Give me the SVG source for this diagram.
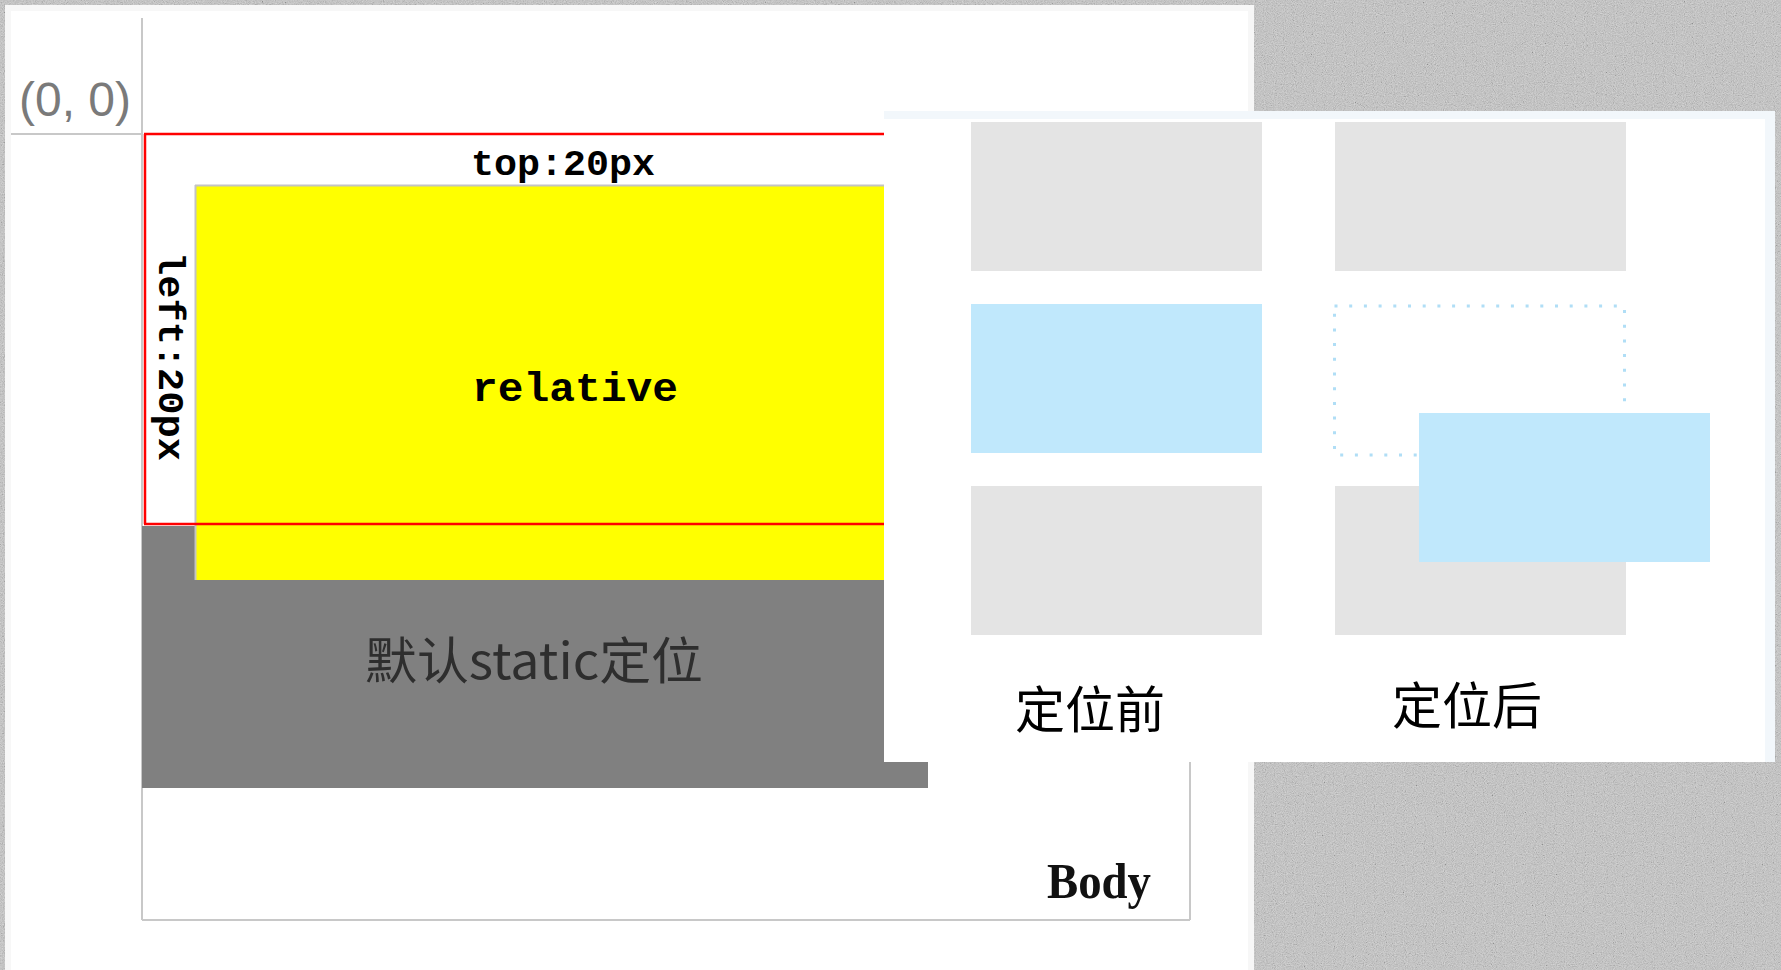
<svg xmlns="http://www.w3.org/2000/svg" width="1781" height="970" viewBox="0 0 1781 970">
<defs>
<filter id="grain" x="0" y="0" width="100%" height="100%">
<feTurbulence type="fractalNoise" baseFrequency="0.9" numOctaves="2" seed="7"/>
<feColorMatrix type="matrix" values="0.6 0.6 0.6 0 -0.45  0.6 0.6 0.6 0 -0.45  0.6 0.6 0.6 0 -0.45  0 0 0 0 1"/>
</filter>
<style>
.guide{stroke:#c8c8c8;stroke-width:2;fill:none}
.red{stroke:#ff0000;stroke-width:2.5;fill:none}
.mono{font-family:"Liberation Mono","DejaVu Sans Mono",monospace;font-weight:bold;fill:#000}
.cjk{font-family:"Noto Sans CJK SC","Noto Sans",sans-serif;fill:#000}
.grey{fill:#e4e4e4}
.blue{fill:#c0e8fc}
</style>
</defs>
<!-- textured background -->
<rect x="0" y="0" width="1781" height="970" fill="#cbcbcb"/>
<rect x="0" y="0" width="1781" height="970" filter="url(#grain)" opacity="0.3"/>

<!-- left panel -->
<g id="left-panel">
<rect x="5" y="5" width="1249" height="970" fill="#f7f7f7"/>
<rect x="11" y="11" width="1237" height="965" fill="#ffffff"/>
<line class="guide" x1="142" y1="18" x2="142" y2="920"/>
<line class="guide" x1="11" y1="134" x2="142" y2="134"/>
<line class="guide" x1="142" y1="920" x2="1190" y2="920"/>
<line class="guide" x1="1190" y1="200" x2="1190" y2="920"/>
<text x="75" y="116" text-anchor="middle" font-family="Liberation Sans, Arial, sans-serif" font-size="48" fill="#7a7a7a" textLength="112" lengthAdjust="spacingAndGlyphs">(0, 0)</text>
</g>

<g id="static-box">
<rect x="142" y="526" width="786" height="262" fill="#808080"/>
<text x="534" y="679" text-anchor="middle" class="cjk" font-size="50" style="fill:#2e2e2e" textLength="338" lengthAdjust="spacingAndGlyphs">默认static定位</text>
</g>

<g id="relative-box">
<rect x="195" y="185" width="700" height="395" fill="#ffff00"/>
<line x1="195" y1="185.5" x2="895" y2="185.5" stroke="#c4c4c4" stroke-width="2"/>
<line x1="195.5" y1="185" x2="195.5" y2="580" stroke="#c4c4c4" stroke-width="2"/>
<text x="575" y="401" text-anchor="middle" class="mono" font-size="40" textLength="206" lengthAdjust="spacingAndGlyphs">relative</text>
</g>

<g id="connectors">
<line class="red" x1="144" y1="134" x2="895" y2="134"/>
<line class="red" x1="145" y1="134" x2="145" y2="524"/>
<line class="red" x1="144" y1="524" x2="895" y2="524"/>
</g>

<g id="offset-labels">
<text x="563" y="175" text-anchor="middle" class="mono" font-size="36" textLength="184" lengthAdjust="spacingAndGlyphs">top:20px</text>
<text transform="translate(159,252) rotate(90)" x="0" y="0" class="mono" font-size="36" textLength="209" lengthAdjust="spacingAndGlyphs">left:20px</text>
</g>

<g id="body-label">
<text x="1099" y="898" text-anchor="middle" font-family="Liberation Serif, 'Times New Roman', serif" font-weight="bold" font-size="50" fill="#111" textLength="104" lengthAdjust="spacingAndGlyphs">Body</text>
</g>

<!-- right panel -->
<g id="right-panel">
<rect x="884" y="111" width="891" height="651" fill="#f2f7fb"/>
<rect x="884" y="119" width="881" height="643" fill="#ffffff"/>
</g>

<g id="before">
<rect class="grey" x="971" y="122" width="291" height="149"/>
<rect class="blue" x="971" y="304" width="291" height="149"/>
<rect class="grey" x="971" y="486" width="291" height="149"/>
<text x="1090" y="728" text-anchor="middle" class="cjk" font-size="50">定位前</text>
</g>

<g id="after">
<rect class="grey" x="1335" y="122" width="291" height="149"/>
<rect class="grey" x="1335" y="486" width="291" height="149"/>
<rect x="1334.5" y="306" width="290" height="149" fill="none" stroke="#b0def6" stroke-width="3" stroke-dasharray="3 11.7"/>
<rect class="blue" x="1419" y="413" width="291" height="149"/>
<text x="1467" y="724" text-anchor="middle" class="cjk" font-size="50">定位后</text>
</g>
</svg>
